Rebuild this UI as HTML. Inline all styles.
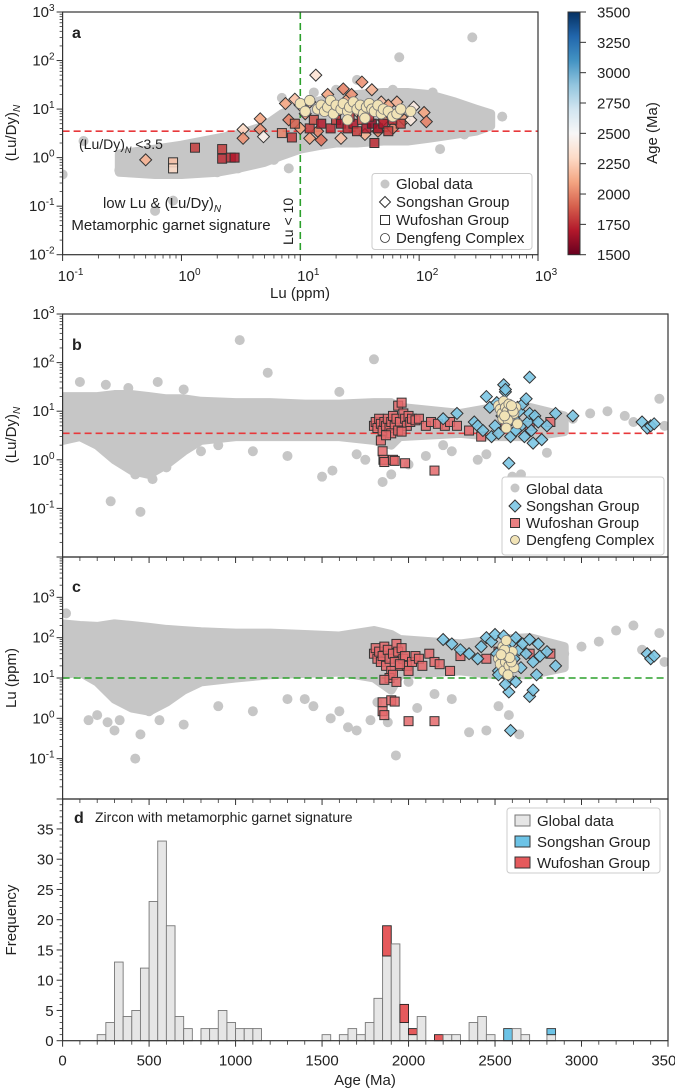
<!DOCTYPE html>
<html><head><meta charset="utf-8">
<style>
body{margin:0;background:#fff;}
svg{display:block;font-family:"Liberation Sans",Arial,sans-serif;}
</style></head>
<body>
<svg id="fig" width="675" height="1089" viewBox="0 0 675 1089" xmlns="http://www.w3.org/2000/svg">
<defs>
<linearGradient id="rdbu" x1="0" y1="1" x2="0" y2="0">
<stop offset="0" stop-color="#67001f"/><stop offset="0.1" stop-color="#b2182b"/><stop offset="0.2" stop-color="#d6604d"/><stop offset="0.3" stop-color="#f4a582"/><stop offset="0.4" stop-color="#fddbc7"/><stop offset="0.5" stop-color="#f7f7f7"/><stop offset="0.6" stop-color="#d1e5f0"/><stop offset="0.7" stop-color="#92c5de"/><stop offset="0.8" stop-color="#4393c3"/><stop offset="0.9" stop-color="#2166ac"/><stop offset="1" stop-color="#053061"/>
</linearGradient>
<clipPath id="clipA"><rect x="62.6" y="12" width="475.4" height="242.7"/></clipPath>
<clipPath id="clipB"><rect x="62.6" y="314" width="605.4" height="243"/></clipPath>
<clipPath id="clipC"><rect x="62.6" y="557" width="605.4" height="242"/></clipPath>
</defs>
</svg>
<script>
// ---------- Panel a data ----------
const aEnvLu=[0.3,0.6,1,2,3,5,7,10,15,20,30,50,80,120,200,300,400];
const aEnvLo=[0.5,0.45,0.45,0.5,0.6,0.8,1.1,1.5,1.8,2,2,2.2,2.2,2.5,3,3.5,4.5];
const aEnvHi=[1.2,1.5,1.8,2.5,3,4.5,8,12,15,18,20,22,22,20,14,10,8];
const aGlobLu=[0.1,0.15,0.3,0.35,0.6,0.85,0.85,0.4,1.2,2,3,5,8,7,13,15,20,30,40,60,100,130,200,300,350,500,280,68,240,150,1.5,2.5,4,6,0.5];
const aGlobV=[0.45,2.2,0.55,0.7,0.08,0.13,1.4,1.2,1.0,0.5,0.6,0.9,0.6,17,22,14,25,40,15,25,12,22,6,5,8,7,300,117,3,1.5,2,2.8,2.4,0.9,0.5];
const aSongLu=[0.5,3.3,3.3,4.6,4.6,4.9,7.5,8,9,10,10,11,12,13.5,12,14,15,17,18,20,22,23,25,27,30,33,35,40,45,48,50,55,60,65,75,90,110,115,85,40];
const aSongV=[0.9,3.8,2.5,6.3,3.8,2.7,13,6,16,12,4,8,14,50,2.5,3.5,2.3,20,14,8,2.5,26,16,20,9,36,3,12,3.5,14,6,12,4,14,6,11,8.5,5.5,6,25];
const aSongAge=[2150,2300,2050,2100,2050,2450,2100,2000,2200,2150,2100,2050,2200,2350,2100,2000,1950,2100,2000,2100,2200,2000,2100,2050,2200,2050,2150,2100,2000,2200,2050,2100,2000,2150,2100,2400,2100,2000,2400,2150];
const aWuLu=[0.85,0.85,1.3,2.2,2.2,2.6,2.8,7,8.5,9,12,13,15,18,20,22,25,28,30,33,36,40,42,45,50,55,60,70,38,26];
const aWuV=[0.8,0.6,1.6,1.5,0.95,1.0,1.0,3.2,2.6,5,4,6,5,4,6,5,4,5,3.5,6,4,5,2,4,5,3.5,6,5,7,7];
const aWuAge=[2200,2300,1800,1800,1750,1750,1700,2000,1800,1900,1800,1850,1700,1750,1800,1650,1750,1700,1800,1850,1700,1600,1750,1650,1700,1800,1750,1800,1750,1800];
const aDfLu=[10,11,12,14,15,16,17,18,19,20,22,23,25,26,28,30,32,34,36,38,40,42,45,48,50,55,60,65,70,85,35,25];
const aDfV=[13,9,15,10,12,9,11,15,8,12,10,13,9,11,14,10,12,8,11,13,10,9,12,8,10,9,7,8,10,9,6.5,6];
// ---------- Panel b data (age vs Lu/Dy) ----------
const bEnvAge=[0,100,200,300,400,500,600,700,800,1000,1200,1400,1600,1800,1900,1950,2300,2500,2700,2900];
const bEnvLo=[2.5,3,2,1,0.6,0.5,0.8,1.5,2.5,3,3,3,3,2.5,2,3,3.5,3,3,3.8];
const bEnvHi=[20,20,20,22,22,20,18,18,16,15,15,14,14,15,15,12,9,12,12,8];
const bGlobAge=[1024,1800,1186,278,450,100,250,350,420,520,600,650,800,900,1100,1300,1500,1700,1750,1850,1900,2000,2100,2250,2400,2450,2650,2800,2950,3050,3150,3250,3300,3450,3480,1600,1560,380,550,700,30,60,2600,2200];
const bGlobV=[290,117,62,0.14,0.085,40,35,1.2,0.5,0.4,0.7,1.2,1.5,2,1.5,1.2,0.45,1.3,1,0.35,0.5,0.8,1.2,1.5,1,1.3,0.5,1.4,7,9,10,8,6,18,5,25,0.6,30,40,28,15,12,0.45,2];
const bWuAge=[1800,1810,1820,1830,1840,1850,1860,1870,1880,1890,1900,1910,1920,1930,1940,1950,1960,1970,1980,1990,2000,2010,2020,2040,2060,2100,2130,2170,2210,2240,2280,2350,2420,2560,2700,2820,1840,1850,1855,1860,1910,1920,1980,2150,1900,1940,1870,1960];
const bWuV=[5,6,4.5,7,5.5,4,6,5,7,4.5,6,8,5,7,13,6,15,9,7,5,8,6,7,6.5,7,5,6,5.5,5,6,5,4,3,4.5,5,6,2.5,1.5,1.0,0.9,1.0,0.95,0.85,0.6,3.5,4,3.2,3.8];
const bSongAge=[2200,2280,2380,2400,2430,2450,2470,2480,2500,2510,2520,2540,2550,2560,2570,2580,2590,2600,2610,2620,2630,2640,2650,2660,2670,2680,2690,2700,2710,2720,2730,2750,2770,2800,2850,2950,3350,3380,3400,3420,2580,2700,2560,2620];
const bSongV=[7,9,6,5,4,20,12,3,5,15,3.5,8,35,25,12,6,3,9,7,4,12,10,5,14,3,18,6,9,4,2.2,8,6,2.6,5,9,8,6,4.5,5,5.5,0.85,50,28,4];
const bDfAge=[2520,2530,2540,2550,2560,2570,2580,2590,2600,2610,2620,2630,2545,2575,2605,2565,2595,2555];
const bDfV=[13,11,9,16,12,10,14,8,11,9,12,5.5,7,6.5,10,4.5,13,8];
// ---------- Panel c data (age vs Lu ppm) ----------
const cEnvAge=[0,100,200,300,400,500,600,700,800,1000,1200,1400,1600,1800,1900,1950,2300,2500,2700,2900];
const cEnvLo=[12,14,8,3,1.8,1.5,2.5,5,8,10,12,13,14,10,5,12,15,12,12,18];
const cEnvHi=[220,200,190,220,200,180,160,150,140,130,130,120,110,150,120,90,70,90,100,60];
const cGlobAge=[420,1927,20,150,200,260,300,330,450,500,560,700,900,1100,1300,1450,1550,1650,1700,1780,1820,1880,2050,2150,2250,2350,2450,2640,2700,2900,3000,3100,3200,3300,3350,3450,3480,2580,2520,2000,1600,1400];
const cGlobV=[0.1,0.12,400,0.9,1.2,0.8,0.5,0.9,0.4,1.5,0.9,0.7,2,1.5,3,2,1,0.6,0.5,0.9,2.5,0.8,1.8,4,3,0.45,0.5,0.4,20,40,60,80,150,200,50,130,25,1.2,2,8,1.5,3];
const cWuAge=[1800,1810,1820,1830,1840,1850,1860,1870,1880,1890,1900,1910,1920,1930,1940,1950,1960,1970,1980,1990,2000,2020,2040,2060,2080,2120,2150,2180,2240,2300,2450,2520,2600,2700,2820,1850,1850,1860,1900,1920,2000,2150,1890,1910,1930,1860,1950];
const cWuV=[40,55,30,45,25,35,60,20,50,30,15,40,25,70,45,20,55,30,35,20,15,25,35,30,20,40,25,22,15,35,30,45,25,40,40,2.5,1.5,1.2,2.8,2.6,0.85,0.85,10,12,8,9,22];
const cSongAge=[2200,2250,2300,2350,2400,2420,2450,2480,2500,2510,2520,2540,2550,2560,2570,2580,2600,2610,2620,2640,2650,2660,2680,2700,2720,2740,2760,2800,2850,2750,3380,3400,3420,2590,2580,2560,2700,2720,2520,2620];
const cSongV=[90,70,50,40,30,60,100,80,120,40,15,25,110,60,20,10,80,30,100,50,18,70,40,90,25,12,35,45,20,70,40,30,35,0.5,4.5,7,3.5,5,12,8];
const cDfAge=[2520,2530,2540,2550,2560,2570,2580,2590,2600,2610,2545,2575,2555,2595,2565,2585,2535];
const cDfV=[30,22,40,15,25,35,20,28,45,18,60,12,50,25,85,32,38];
// ---------- Panel d data (histogram, bins of 50 Ma) ----------
const binStart=[200,250,300,350,400,450,500,550,600,650,700,750,800,850,900,950,1000,1050,1100,1150,1200,1250,1300,1350,1400,1450,1500,1550,1600,1650,1700,1750,1800,1850,1900,1950,2000,2050,2100,2150,2200,2250,2300,2350,2400,2450,2500,2550,2600,2650,2700,2750,2800];
const globCounts=[1,3,13,4,5,12,23,33,19,4,2,0,2,2,5,3,2,2,2,0,0,0,0,0,0,0,1,0,1,2,1,3,7,14,16,3,1,4,0,0,1,1,0,3,4,1,0,0,2,1,0,0,1];
const songCounts=[0,0,0,0,0,0,0,0,0,0,0,0,0,0,0,0,0,0,0,0,0,0,0,0,0,0,0,0,0,0,0,0,0,0,0,0,0,0,0,0,0,0,0,0,0,0,0,2,0,0,0,0,1];
const wuCounts=[0,0,0,0,0,0,0,0,0,0,0,0,0,0,0,0,0,0,0,0,0,0,0,0,0,0,0,0,0,0,0,0,0,5,0,3,1,0,0,1,0,0,0,0,0,0,0,0,0,0,0,0,0];
const cbTicks=[1500,1750,2000,2250,2500,2750,3000,3250,3500];
const ageTicks=[0,500,1000,1500,2000,2500,3000,3500];
const freqTicks=[0,5,10,15,20,25,30,35];

const NS='http://www.w3.org/2000/svg';
const svg=document.getElementById('fig');
function mk(tag,attrs,parent){const e=document.createElementNS(NS,tag);for(const k in attrs)e.setAttribute(k,attrs[k]);(parent||svg).appendChild(e);return e;}
function txt(x,y,s,attrs,parent){const e=mk('text',Object.assign({x:x,y:y,'font-size':15,fill:'#222'},attrs||{}),parent);e.textContent=s;return e;}
function sup(x,y,base,exp,parent,anchor){const e=mk('text',{x:x,y:y,'font-size':15,fill:'#222','text-anchor':anchor||'end'},parent);const t1=mk('tspan',{},e);t1.textContent=base;const t2=mk('tspan',{dy:-6,'font-size':10},e);t2.textContent=exp;return e;}

// scales
const L=62.6,R=668,aR=538;
const xa=v=>L+(Math.log10(v)+1)*(aR-L)/4;
const ya=v=>12+(3-Math.log10(v))*48.54;
const xAge=a=>L+a*(R-L)/3500;
const yb=v=>314+(3-Math.log10(v))*48.6;
const yc=v=>557+(4-Math.log10(v))*40.33;
const yd=f=>1040.7-f*6.05;

const stops=['#67001f','#b2182b','#d6604d','#f4a582','#fddbc7','#f7f7f7','#d1e5f0','#92c5de','#4393c3','#2166ac','#053061'];
function hex(h){return [1,3,5].map(i=>parseInt(h.substr(i,2),16));}
function cmap(age){let t=(age-1500)/2000;t=Math.max(0,Math.min(1,t))*10;const i=Math.min(9,Math.floor(t));const f=t-i;const a=hex(stops[i]),b=hex(stops[i+1]);return 'rgb('+a.map((v,k)=>Math.round(v+(b[k]-v)*f)).join(',')+')';}

function diamond(g,x,y,fill,s){s=s||6;return mk('polygon',{points:`${x},${y-s} ${x+s},${y} ${x},${y+s} ${x-s},${y}`,fill:fill,stroke:'#333','stroke-width':1,'fill-opacity':0.9},g);}
function square(g,x,y,fill,s){s=s||9;return mk('rect',{x:x-s/2,y:y-s/2,width:s,height:s,fill:fill,stroke:'#333','stroke-width':1,'fill-opacity':0.85},g);}
function circ(g,x,y,fill,r,stroke){return mk('circle',{cx:x,cy:y,r:r||5,fill:fill,stroke:stroke||'#555','stroke-width':stroke==='none'?0:0.8},g);}

function envelope(g,xs,lo,hi,fx,fy){let pts=xs.map((v,i)=>fx(v)+','+fy(hi[i]));for(let i=xs.length-1;i>=0;i--)pts.push(fx(xs[i])+','+fy(lo[i]));return mk('polygon',{points:pts.join(' '),fill:'#c6c6c6',stroke:'#c6c6c6','stroke-width':9,'stroke-linejoin':'round'},g);}

function logYAxis(yf,decades,x,parent,top,bottom,labelled){
  for(const d of decades){const y=yf(Math.pow(10,d));
    if(y>=top-0.5&&y<=bottom+0.5){mk('line',{x1:x-6,x2:x,y1:y,y2:y,stroke:'#333','stroke-width':1},parent);if(labelled.indexOf(d)>=0)sup(x-8,y+5,'10',String(d),parent);}
    for(let m=2;m<10;m++){const ym=yf(m*Math.pow(10,d));if(ym>=top&&ym<=bottom)mk('line',{x1:x-3,x2:x,y1:ym,y2:ym,stroke:'#333','stroke-width':0.8},parent);}
  }
}
function ageTicksAxis(yAxis,parent,labels){
  for(let a=0;a<=3500;a+=100){const x=xAge(a);const maj=a%500===0;mk('line',{x1:x,x2:x,y1:yAxis,y2:yAxis+(maj?6:4),stroke:'#333','stroke-width':maj?1:0.8},parent);}
  if(labels)ageTicks.forEach(a=>{txt(xAge(a),yAxis+25,String(a),{'text-anchor':'middle'},parent);});
}

// ================= Panel a =================
const ga=mk('g',{});


const gaPlot=mk('g',{'clip-path':'url(#clipA)'},ga);
const envA=envelope(gaPlot,aEnvLu,aEnvLo,aEnvHi,xa,ya);


aGlobLu.forEach((v,i)=>{const c=circ(gaPlot,xa(v),ya(aGlobV[i]),'#c6c6c6',5,'none');

});
const refA=mk('line',{x1:L,x2:aR,y1:ya(3.5),y2:ya(3.5),stroke:'#e8383b','stroke-width':1.6,'stroke-dasharray':'7,4'},gaPlot);


const vlineA=mk('line',{x1:xa(10),x2:xa(10),y1:12,y2:255,stroke:'#2ca02c','stroke-width':1.6,'stroke-dasharray':'7,4'},gaPlot);


aSongLu.forEach((v,i)=>{const p=diamond(gaPlot,xa(v),ya(aSongV[i]),cmap(aSongAge[i]));

});
aWuLu.forEach((v,i)=>{const p=square(gaPlot,xa(v),ya(aWuV[i]),cmap(aWuAge[i]));

});
aDfLu.forEach((v,i)=>{const p=circ(gaPlot,xa(v),ya(aDfV[i]),'#f1e3b6',5.2,'#777');

});
mk('rect',{x:L,y:12,width:aR-L,height:242.7,fill:'none',stroke:'#333','stroke-width':1.2},ga);
logYAxis(ya,[-2,-1,0,1,2,3],L,ga,12,255,[-2,-1,0,1,2,3]);
for(let d=-1;d<=3;d++){const x=xa(Math.pow(10,d));mk('line',{x1:x,x2:x,y1:254.7,y2:261,stroke:'#333','stroke-width':1},ga);sup(x+8,281,'10',String(d),ga,'middle');
 if(d<3)for(let m=2;m<10;m++){const xm=xa(m*Math.pow(10,d));mk('line',{x1:xm,x2:xm,y1:254.7,y2:258.5,stroke:'#333','stroke-width':0.8},ga);}}
const xtA=txt(300,298,'Lu (ppm)',{'text-anchor':'middle'},ga);


const ytA=mk('text',{x:0,y:0,'font-size':15,fill:'#222','text-anchor':'middle',transform:'translate(16,133) rotate(-90)'},ga);ytA.innerHTML='(Lu/Dy)<tspan font-size="10" dy="4" font-style="italic">N</tspan>';


txt(72,38,'a',{'font-weight':'bold','font-size':16},ga);
const lab1=mk('text',{x:79,y:149,'font-size':14,fill:'#222'},ga);lab1.innerHTML='(Lu/Dy)<tspan font-size="9" dy="4" font-style="italic">N</tspan><tspan dy="-4"> &lt;3.5</tspan>';


const lab2=mk('text',{x:162,y:208,'font-size':15,fill:'#222','text-anchor':'middle'},ga);lab2.innerHTML='low Lu &amp; (Lu/Dy)<tspan font-size="10" dy="4" font-style="italic">N</tspan>';
txt(171,230,'Metamorphic garnet signature',{'text-anchor':'middle'},ga);
txt(0,0,'Lu < 10',{transform:'translate(293,245) rotate(-90)','font-size':14},ga);
const legA=mk('g',{},ga);


mk('rect',{x:372,y:173.5,width:160,height:76,fill:'#fff',stroke:'#ccc','stroke-width':1,rx:3},legA);
circ(legA,385,184,'#c6c6c6',4.5,'none');txt(396,189,'Global data',{},legA);
diamond(legA,385,202,'#fff',5.5);txt(396,207,'Songshan Group',{},legA);
square(legA,385,220,'#fff',9);txt(396,225,'Wufoshan Group',{},legA);
circ(legA,385,238,'#fff',4.5,'#333');txt(396,243,'Dengfeng Complex',{},legA);
// colorbar
const cb=mk('g',{});


mk('rect',{x:568,y:12,width:12,height:242.7,fill:'url(#rdbu)',stroke:'#333','stroke-width':1},cb);
cbTicks.forEach(t=>{const y=254.7-(t-1500)/2000*242.7;mk('line',{x1:580,x2:586,y1:y,y2:y,stroke:'#333'},cb);txt(597,y+5.5,String(t),{},cb);});
txt(0,0,'Age (Ma)',{transform:'translate(657,133) rotate(-90)','text-anchor':'middle'},cb);

// ================= Panel b =================
const gb=mk('g',{});


const gbPlot=mk('g',{'clip-path':'url(#clipB)'},gb);
const envB=envelope(gbPlot,bEnvAge,bEnvLo,bEnvHi,xAge,yb);


bGlobAge.forEach((a,i)=>{const c=circ(gbPlot,xAge(a),yb(bGlobV[i]),'#c6c6c6',5,'none');

});
const refB=mk('line',{x1:L,x2:R,y1:yb(3.5),y2:yb(3.5),stroke:'#e8383b','stroke-width':1.6,'stroke-dasharray':'7,4'},gbPlot);


bWuAge.forEach((a,i)=>{const p=square(gbPlot,xAge(a),yb(bWuV[i]),'#e4696b');

});
bSongAge.forEach((a,i)=>{const p=diamond(gbPlot,xAge(a),yb(bSongV[i]),'#7cc6e4');

});
bDfAge.forEach((a,i)=>{const p=circ(gbPlot,xAge(a),yb(bDfV[i]),'#f1e3b6',5,'#777');

});
mk('rect',{x:L,y:314,width:R-L,height:243,fill:'none',stroke:'#333','stroke-width':1.2},gb);
logYAxis(yb,[-2,-1,0,1,2,3],L,gb,314,557,[-1,0,1,2,3]);
ageTicksAxis(557,gb,false);
const ytB=mk('text',{x:0,y:0,'font-size':15,fill:'#222','text-anchor':'middle',transform:'translate(16,435) rotate(-90)'},gb);ytB.innerHTML='(Lu/Dy)<tspan font-size="10" dy="4" font-style="italic">N</tspan>';


txt(72,350,'b',{'font-weight':'bold','font-size':16},gb);
const legB=mk('g',{},gb);


mk('rect',{x:502,y:477,width:162,height:78,fill:'#fff',stroke:'#ccc','stroke-width':1,rx:3},legB);
circ(legB,515,488,'#c6c6c6',4.5,'none');txt(526,494,'Global data',{},legB);
diamond(legB,515,506,'#7cc6e4',6);txt(526,511,'Songshan Group',{},legB);
square(legB,515,523,'#e4696b',9);txt(526,528,'Wufoshan Group',{},legB);
circ(legB,515,540,'#f1e3b6',4.5,'#555');txt(526,545,'Dengfeng Complex',{},legB);

// ================= Panel c =================
const gc=mk('g',{});


const gcPlot=mk('g',{'clip-path':'url(#clipC)'},gc);
const envC=envelope(gcPlot,cEnvAge,cEnvLo,cEnvHi,xAge,yc);


cGlobAge.forEach((a,i)=>{const c=circ(gcPlot,xAge(a),yc(cGlobV[i]),'#c6c6c6',5,'none');

});
const refC=mk('line',{x1:L,x2:R,y1:yc(10),y2:yc(10),stroke:'#2ca02c','stroke-width':1.6,'stroke-dasharray':'7,4'},gcPlot);


cWuAge.forEach((a,i)=>{const p=square(gcPlot,xAge(a),yc(cWuV[i]),'#e4696b');

});
cSongAge.forEach((a,i)=>{const p=diamond(gcPlot,xAge(a),yc(cSongV[i]),'#7cc6e4');

});
cDfAge.forEach((a,i)=>{const p=circ(gcPlot,xAge(a),yc(cDfV[i]),'#f1e3b6',5,'#777');

});
mk('rect',{x:L,y:557,width:R-L,height:242,fill:'none',stroke:'#333','stroke-width':1.2},gc);
logYAxis(yc,[-2,-1,0,1,2,3,4],L,gc,557,799,[-1,0,1,2,3]);
ageTicksAxis(799,gc,false);
const ytC=txt(0,0,'Lu (ppm)',{transform:'translate(16,678) rotate(-90)','text-anchor':'middle'},gc);


txt(72,592,'c',{'font-weight':'bold','font-size':16},gc);

// ================= Panel d =================
const gd=mk('g',{});


binStart.forEach((b,i)=>{const x0=xAge(b),x1=xAge(b+50),w=x1-x0;
 let base=0;
 if(globCounts[i]>0){const r=mk('rect',{x:x0,y:yd(globCounts[i]),width:w,height:yd(0)-yd(globCounts[i]),fill:'#e6e6e6',stroke:'#777','stroke-width':0.9},gd);
 
 }
 base=globCounts[i];
 if(songCounts[i]>0){const r=mk('rect',{x:x0,y:yd(base+songCounts[i]),width:w,height:yd(base)-yd(base+songCounts[i]),fill:'#6cc3e6',stroke:'#333','stroke-width':0.9},gd);
 
 }
 base+=songCounts[i];
 if(wuCounts[i]>0){const r=mk('rect',{x:x0,y:yd(base+wuCounts[i]),width:w,height:yd(base)-yd(base+wuCounts[i]),fill:'#e55a5c',stroke:'#222','stroke-width':0.9},gd);
 
 }
});
mk('rect',{x:L,y:799,width:R-L,height:241.7,fill:'none',stroke:'#333','stroke-width':1.2},gd);
for(let f=0;f<=40;f++){const y=yd(f);if(y<799)continue;const maj=f%5===0;mk('line',{x1:L-(maj?6:3),x2:L,y1:y,y2:y,stroke:'#333','stroke-width':maj?1:0.8},gd);}
freqTicks.forEach(f=>txt(L-9,yd(f)+5.5,String(f),{'text-anchor':'end'},gd));
ageTicksAxis(1040.7,gd,true);
const xtD=txt(365,1085,'Age (Ma)',{'text-anchor':'middle'},gd);


const ytD=txt(0,0,'Frequency',{transform:'translate(16,920) rotate(-90)','text-anchor':'middle'},gd);


txt(74,823,'d',{'font-weight':'bold','font-size':16},gd);
txt(95,822,'Zircon with metamorphic garnet signature',{'font-size':14},gd);
const legD=mk('g',{},gd);


mk('rect',{x:507,y:808,width:153,height:65,fill:'#fff',stroke:'#ccc','stroke-width':1,rx:3},legD);
mk('rect',{x:515,y:815,width:15,height:11,fill:'#e6e6e6',stroke:'#777'},legD);txt(537,826,'Global data',{},legD);
mk('rect',{x:515,y:836,width:15,height:11,fill:'#6cc3e6',stroke:'#333'},legD);txt(537,847,'Songshan Group',{},legD);
mk('rect',{x:515,y:857,width:15,height:11,fill:'#e55a5c',stroke:'#333'},legD);txt(537,868,'Wufoshan Group',{},legD);
</script>
</body></html>
